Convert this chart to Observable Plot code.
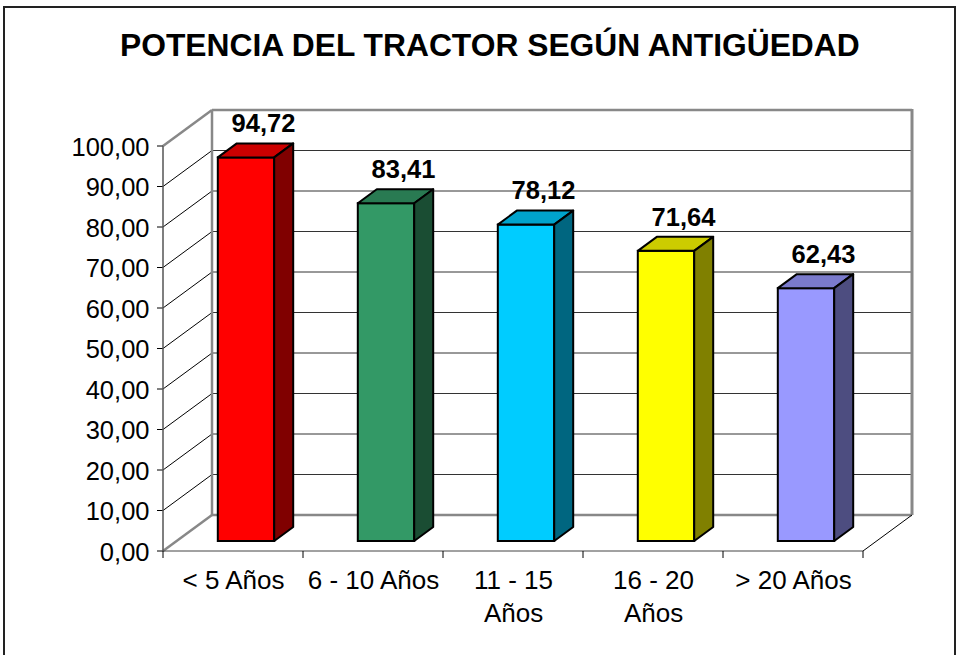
<!DOCTYPE html>
<html>
<head>
<meta charset="utf-8">
<script src="https://cdn.jsdelivr.net/npm/d3@7"></script>
<script src="https://cdn.jsdelivr.net/npm/@observablehq/plot@0.6"></script>
<style>
html, body { margin: 0; padding: 0; background: #fff; }
#wrap { position: relative; width: 959px; height: 655px; overflow: hidden; font-family: "Liberation Sans", Arial, sans-serif; }
#border { position: absolute; left: 3px; top: 6px; width: 949px; height: 700px; border: 2px solid #222; }
#chart { position: absolute; left: 0; top: 0; }
#title { position: absolute; left: 10px; top: 30px; width: 959px; text-align: center; font-weight: bold; font-size: 31px; line-height: 31px; color: #000; white-space: nowrap; }
#title span { display: inline-block; transform: scaleX(1.025); transform-origin: center; }
</style>
</head>
<body>
<div id="wrap">
  <div id="border"></div>
  <div id="chart"></div>
  <div id="title"><span>POTENCIA DEL TRACTOR SEGÚN ANTIGÜEDAD</span></div>
</div>
<script>
// ---- data ----
const categories = ["< 5 Años", "6 - 10 Años", "11 - 15 Años", "16 - 20 Años", "> 20 Años"];
const tickLabels = ["< 5 Años", "6 - 10 Años", "11 - 15\nAños", "16 - 20\nAños", "> 20 Años"];
const values = [94.72, 83.41, 78.12, 71.64, 62.43];
const valueLabels = ["94,72", "83,41", "78,12", "71,64", "62,43"];
const yTicks = [0, 10, 20, 30, 40, 50, 60, 70, 80, 90, 100];
const yTickLabels = ["0,00", "10,00", "20,00", "30,00", "40,00", "50,00", "60,00", "70,00", "80,00", "90,00", "100,00"];
const frontColors = ["#ff0000", "#339966", "#00ccff", "#ffff00", "#9999ff"];
const topColors = ["#cc0000", "#297a52", "#00a3cc", "#cccc00", "#7a7acc"];
const sideColors = ["#800000", "#1a4d33", "#006680", "#808000", "#4d4d80"];

const data = categories.map((c, i) => ({
  cat: c, value: values[i], label: valueLabels[i], tick: tickLabels[i],
  front: frontColors[i], top: topColors[i], side: sideColors[i]
}));

// ---- 3D geometry (pixel offsets, styling only) ----
const WALL = [49, -36];      // depth of the chart box
const BAR_OFF = [13, -10];   // bar front face offset into the box
const BAR_D = [19, -14];     // depth of each bar
const INSET = 41.8;          // band inset of bars

function bandwidth(x) {
  return x.bandwidth ? x.bandwidth() : (x(categories[1]) - x(categories[0]));
}

function walls(index, scales) {
  const x = scales.x, y = scales.y;
  const bw = bandwidth(x);
  const x0 = x(categories[0]);
  const x1 = x(categories[categories.length - 1]) + bw;
  const [dx, dy] = WALL;
  const tMin = yTicks[0], tMax = yTicks[yTicks.length - 1];
  const g = d3.create("svg:g").attr("fill", "none");
  const line = (a, b, c, d, stroke, w) =>
    g.append("line").attr("x1", a).attr("y1", b).attr("x2", c).attr("y2", d)
      .attr("stroke", stroke).attr("stroke-width", w);
  for (const t of yTicks) {
    const yy = y(t);
    const edge = t === tMin || t === tMax;
    line(x0 + dx, yy + dy, x1 + dx, yy + dy, edge ? "#888" : "#333", edge ? 2.5 : 1);
    line(x0, yy, x0 + dx, yy + dy, edge ? "#888" : "#000", edge ? 2.5 : 1);
    line(x0 - 6, yy, x0, yy, "#000", 1);
  }
  // back wall verticals
  line(x0 + dx, y(tMax) + dy, x0 + dx, y(tMin) + dy, "#888", 2.5);
  line(x1 + dx, y(tMax) + dy - 1, x1 + dx, y(tMin) + dy, "#888", 3);
  // floor front edge and right edge
  line(x0, y(tMin), x1, y(tMin), "#444", 1);
  line(x1, y(tMin), x1 + dx, y(tMin) + dy, "#000", 1);
  // y axis line
  line(x0, y(tMax), x0, y(tMin), "#555", 1.5);
  // category ticks
  for (let i = 0; i <= categories.length; i++) {
    const xb = x0 + i * bw;
    line(xb, y(tMin), xb, y(tMin) + 7, "#000", 1);
  }
  return g.node();
}

function barFaces(index, scales) {
  const x = scales.x, y = scales.y;
  const bw = bandwidth(x);
  const g = d3.create("svg:g").attr("stroke", "#000").attr("stroke-width", 2).attr("stroke-linejoin", "round");
  const [ox, oy] = BAR_OFF;
  const [bx, by] = BAR_D;
  data.forEach(d => {
    const xl = x(d.cat) + INSET + ox;
    const xr = x(d.cat) + bw - INSET + ox;
    const yt = y(d.value) + oy;
    const yb = y(0) + oy;
    g.append("polygon").attr("fill", d.top)
      .attr("points", [[xl, yt], [xl + bx, yt + by], [xr + bx, yt + by], [xr, yt]].map(p => p.join(",")).join(" "));
    g.append("polygon").attr("fill", d.side)
      .attr("points", [[xr, yt], [xr + bx, yt + by], [xr + bx, yb + by], [xr, yb]].map(p => p.join(",")).join(" "));
  });
  return g.node();
}

const chart = Plot.plot({
  width: 959,
  height: 655,
  marginLeft: 161,
  marginRight: 95,
  marginTop: 146,
  marginBottom: 104,
  x: { type: "band", domain: categories, padding: 0, axis: null },
  y: { domain: [0, 100], axis: null },
  color: { type: "identity" },
  style: { fontFamily: "'Liberation Sans', Arial, sans-serif", background: "transparent", overflow: "visible" },
  marks: [
    walls,
    Plot.barY(data, {
      x: "cat", y: "value", fill: "front", stroke: "#000", strokeWidth: 2,
      insetLeft: INSET, insetRight: INSET, dx: BAR_OFF[0], dy: BAR_OFF[1]
    }),
    barFaces,
    Plot.text(data, {
      x: "cat", y: "value", text: "label", dx: 30, dy: -44,
      fontSize: 25.5, fontWeight: "bold", fill: "#000"
    }),
    Plot.text(yTicks, {
      y: d => d, text: (d, i) => yTickLabels[i], frameAnchor: "left",
      textAnchor: "end", dx: -12, dy: 1, fontSize: 25.5, fill: "#000"
    }),
    Plot.text(data, {
      x: "cat", text: "tick", frameAnchor: "bottom", lineAnchor: "top",
      dy: 14, fontSize: 26, lineHeight: 1.28, fill: "#000"
    })
  ]
});
document.getElementById("chart").appendChild(chart);
</script>
</body>
</html>
